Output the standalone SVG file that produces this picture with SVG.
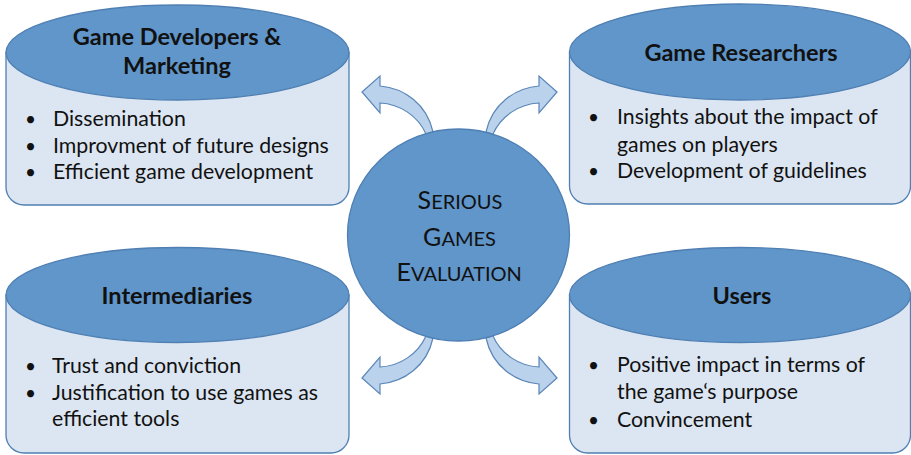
<svg xmlns="http://www.w3.org/2000/svg" width="911" height="455" viewBox="0 0 911 455">
  <style>
    .body { fill: #DCE6F2; stroke: #4F7FB3; stroke-width: 1.3; }
    .top { fill: #6096C9; stroke: #4F7FB3; stroke-width: 1.3; }
    .hub { fill: #6096C9; stroke: #4F7FB3; stroke-width: 1.3; }
    .arrow { fill: #BAD2EB; stroke: #5A86B8; stroke-width: 1.2; stroke-linejoin: miter; }
    .head { font-family: Lato, "Liberation Sans", sans-serif; font-weight: bold; font-size: 23.5px; fill: #111; text-anchor: middle; }
    .item { font-family: Lato, "Liberation Sans", sans-serif; font-size: 21.3px; fill: #111; }
    .dot { font-family: Lato, "Liberation Sans", sans-serif; font-size: 19px; fill: #111; }
    .hubtxt { font-family: Lato, "Liberation Sans", sans-serif; font-size: 25px; fill: #111; text-anchor: middle; }
    .sc { font-size: 20px; }
  </style>
  <defs>
    <!-- curved block arrow leaving the hub towards the upper-left -->
    <path id="curvedArrow" class="arrow" d="M362,92 L380,76 L380,86 C404,88 427,104 433,132 L426,134 C418,116 400,104 380,103 L380,113 Z"/>
  </defs>

  <!-- connectors: curved arrows from the hub to each stakeholder -->
  <g id="connectors">
    <use href="#curvedArrow"/>
    <use href="#curvedArrow" transform="translate(919,0) scale(-1,1)"/>
    <use href="#curvedArrow" transform="translate(0,470) scale(1,-1)"/>
    <use href="#curvedArrow" transform="translate(919,470) scale(-1,-1)"/>
  </g>

  <!-- stakeholder: developers & marketing -->
  <g id="developers">
    <path class="body" d="M6,52.5 L6,187 A18,18 0 0 0 24,205 L331,205 A18,18 0 0 0 349,187 L349,52.5 Z"/>
    <ellipse class="top" cx="177.5" cy="52.5" rx="171.5" ry="47.5"/>
    <text class="head" x="177" y="45">Game Developers &amp;</text>
    <text class="head" x="177" y="74">Marketing</text>
    <text class="dot" x="25" y="126">•</text>
    <text class="item" x="53" y="126">Dissemination</text>
    <text class="dot" x="25" y="152.7">•</text>
    <text class="item" x="53" y="152.7">Improvment of future designs</text>
    <text class="dot" x="25" y="179.3">•</text>
    <text class="item" x="53" y="179.3">Efficient game development</text>
  </g>

  <!-- stakeholder: researchers -->
  <g id="researchers">
    <path class="body" d="M569.5,52 L569.5,186 A18,18 0 0 0 587.5,204 L892.5,204 A18,18 0 0 0 910.5,186 L910.5,52 Z"/>
    <ellipse class="top" cx="740" cy="52" rx="170.5" ry="48"/>
    <text class="head" x="741" y="60.5">Game Researchers</text>
    <text class="dot" x="588" y="124.3">•</text>
    <text class="item" x="617" y="124.3">Insights about the impact of</text>
    <text class="item" x="617" y="151.5">games on players</text>
    <text class="dot" x="588" y="178.3">•</text>
    <text class="item" x="617" y="178.3">Development of guidelines</text>
  </g>

  <!-- stakeholder: intermediaries -->
  <g id="intermediaries">
    <path class="body" d="M6,295 L6,435 A18,18 0 0 0 24,453 L331,453 A18,18 0 0 0 349,435 L349,295 Z"/>
    <ellipse class="top" cx="177.5" cy="295" rx="171.5" ry="47.5"/>
    <text class="head" x="177" y="304">Intermediaries</text>
    <text class="dot" x="25" y="373.3">•</text>
    <text class="item" x="52" y="373.3">Trust and conviction</text>
    <text class="dot" x="25" y="400">•</text>
    <text class="item" x="52" y="400">Justification to use games as</text>
    <text class="item" x="52" y="426.3">efficient tools</text>
  </g>

  <!-- stakeholder: users -->
  <g id="users">
    <path class="body" d="M569.5,295 L569.5,435 A18,18 0 0 0 587.5,453 L892.5,453 A18,18 0 0 0 910.5,435 L910.5,295 Z"/>
    <ellipse class="top" cx="740" cy="295" rx="170.5" ry="47.5"/>
    <text class="head" x="742" y="304">Users</text>
    <text class="dot" x="588" y="371.7">•</text>
    <text class="item" x="617" y="371.7">Positive impact in terms of</text>
    <text class="item" x="617" y="399">the game‘s purpose</text>
    <text class="dot" x="588" y="426.7">•</text>
    <text class="item" x="617" y="426.7">Convincement</text>
  </g>

  <!-- central hub -->
  <g id="hub">
    <ellipse class="hub" cx="458.5" cy="235" rx="111" ry="106"/>
    <text class="hubtxt" x="460" y="209.3">S<tspan class="sc">ERIOUS</tspan></text>
    <text class="hubtxt" x="459.5" y="245.7">G<tspan class="sc">AMES</tspan></text>
    <text class="hubtxt" x="459.2" y="281">E<tspan class="sc">VALUATION</tspan></text>
  </g>
</svg>
